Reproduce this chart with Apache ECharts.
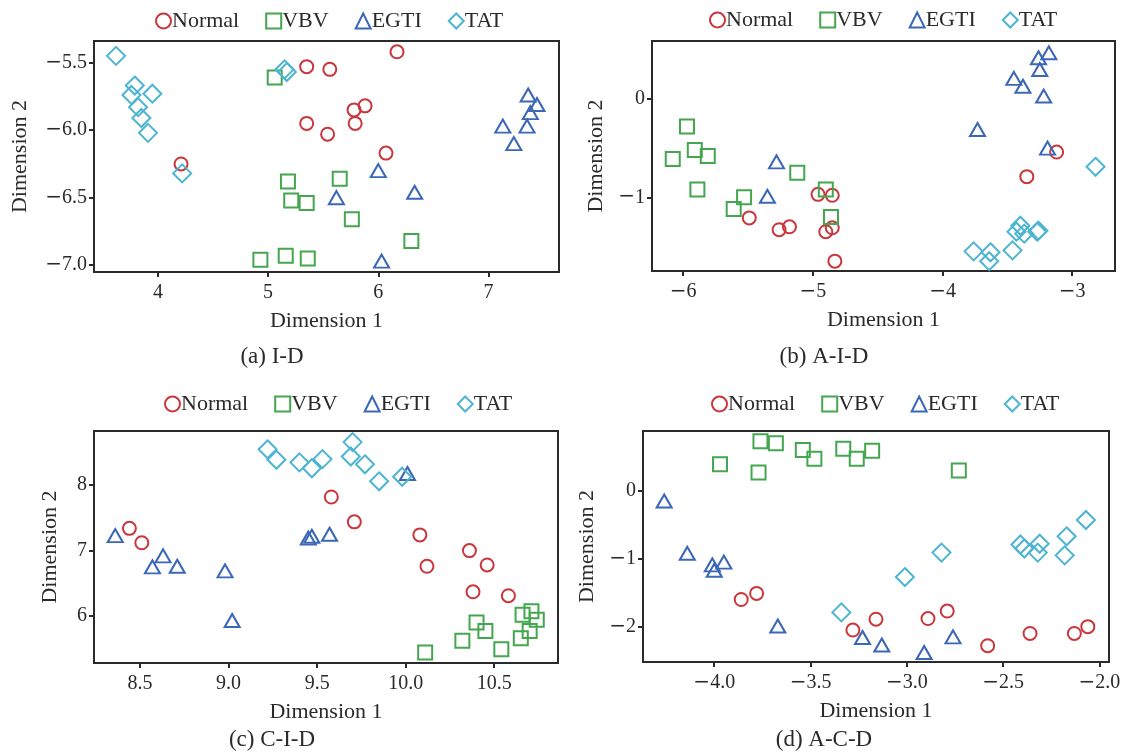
<!DOCTYPE html>
<html>
<head>
<meta charset="utf-8">
<script src="https://cdn.jsdelivr.net/npm/echarts@6/dist/echarts.min.js"></script>
<style>
  html, body { margin: 0; padding: 0; background: #fff; }
  #main { width: 1126px; height: 756px; }
</style>
</head>
<body>
<div id="main"></div>
<script>
// classes shown in every panel
const classNames = ['Normal', 'VBV', 'EGTI', 'TAT'];

// (a) I-D   points as [Dimension 1, Dimension 2]
const aNormal = [[6.17,-5.42],[5.35,-5.53],[5.56,-5.55],[5.78,-5.85],[5.88,-5.82],[5.79,-5.95],[5.35,-5.95],[5.54,-6.03],[6.07,-6.17],[4.21,-6.25]];
const aVBV = [[5.06,-5.61],[5.18,-6.38],[5.21,-6.52],[5.35,-6.54],[5.65,-6.36],[5.76,-6.66],[6.30,-6.82],[4.93,-6.96],[5.16,-6.93],[5.36,-6.95]];
const aEGTI = [[7.36,-5.74],[7.44,-5.81],[7.38,-5.87],[7.13,-5.97],[7.35,-5.97],[7.23,-6.10],[6.00,-6.30],[6.33,-6.46],[5.62,-6.50],[6.03,-6.97]];
const aTAT = [[3.62,-5.45],[3.79,-5.67],[3.76,-5.74],[3.95,-5.73],[3.82,-5.83],[3.85,-5.91],[3.91,-6.02],[4.22,-6.32],[5.15,-5.55],[5.17,-5.57]];
const aXTicks = ['4', '5', '6', '7'];
const aYTicks = ['-7.0', '-6.5', '-6.0', '-5.5'];

// (b) A-I-D
const bNormal = [[-3.12,-0.54],[-3.35,-0.79],[-4.96,-0.97],[-4.85,-0.98],[-5.49,-1.21],[-5.26,-1.33],[-5.18,-1.30],[-4.90,-1.35],[-4.85,-1.31],[-4.83,-1.65]];
const bVBV = [[-5.97,-0.28],[-5.91,-0.52],[-5.81,-0.58],[-6.08,-0.61],[-5.89,-0.92],[-5.12,-0.75],[-5.53,-1.00],[-5.61,-1.12],[-4.90,-0.92],[-4.86,-1.20]];
const bEGTI = [[-3.18,0.47],[-3.26,0.42],[-3.25,0.30],[-3.45,0.21],[-3.38,0.13],[-3.22,0.03],[-3.73,-0.31],[-3.19,-0.50],[-5.28,-0.64],[-5.35,-0.99]];
const bTAT = [[-2.82,-0.69],[-3.76,-1.55],[-3.63,-1.56],[-3.64,-1.65],[-3.46,-1.54],[-3.40,-1.29],[-3.43,-1.35],[-3.37,-1.37],[-3.27,-1.35],[-3.26,-1.34]];
const bXTicks = ['-6', '-5', '-4', '-3'];
const bYTicks = ['-1', '0'];

// (c) C-I-D
const cNormal = [[9.58,7.82],[9.71,7.44],[8.44,7.34],[8.51,7.12],[10.08,7.24],[10.12,6.76],[10.36,7.00],[10.46,6.78],[10.38,6.37],[10.58,6.31]];
const cVBV = [[10.11,5.44],[10.32,5.62],[10.40,5.90],[10.45,5.77],[10.54,5.49],[10.65,5.66],[10.70,5.77],[10.66,6.02],[10.71,6.07],[10.74,5.94]];
const cEGTI = [[8.36,7.23],[8.57,6.75],[8.63,6.92],[8.71,6.76],[8.98,6.69],[9.02,5.93],[9.45,7.19],[9.47,7.22],[9.57,7.25],[10.01,8.18]];
const cTAT = [[9.22,8.55],[9.27,8.39],[9.40,8.35],[9.47,8.26],[9.53,8.40],[9.70,8.66],[9.69,8.44],[9.77,8.32],[9.85,8.06],[9.98,8.13]];
const cXTicks = ['8.5', '9.0', '9.5', '10.0', '10.5'];
const cYTicks = ['6', '7', '8'];

// (d) A-C-D
const dNormal = [[-3.86,-1.60],[-3.78,-1.51],[-3.28,-2.05],[-3.16,-1.89],[-2.89,-1.88],[-2.79,-1.77],[-2.58,-2.28],[-2.36,-2.10],[-2.13,-2.10],[-2.06,-2.00]];
const dVBV = [[-3.97,0.39],[-3.76,0.73],[-3.68,0.70],[-3.77,0.27],[-3.54,0.60],[-3.48,0.47],[-3.33,0.62],[-3.26,0.47],[-3.18,0.59],[-2.73,0.30]];
const dEGTI = [[-4.26,-0.15],[-4.14,-0.92],[-4.01,-1.09],[-4.00,-1.17],[-3.95,-1.05],[-3.67,-1.99],[-3.23,-2.16],[-3.13,-2.27],[-2.91,-2.38],[-2.76,-2.15]];
const dTAT = [[-3.34,-1.79],[-3.01,-1.27],[-2.82,-0.91],[-2.41,-0.79],[-2.39,-0.85],[-2.31,-0.78],[-2.32,-0.91],[-2.17,-0.67],[-2.18,-0.95],[-2.07,-0.43]];
const dXTicks = ['-4.0', '-3.5', '-3.0', '-2.5', '-2.0'];
const dYTicks = ['-2', '-1', '0'];

const colors = ['#c9373d', '#44a64f', '#3b67b6', '#4db5d2'];
const symbols = ['circle', 'rect', 'triangle', 'diamond'];
const symbolSizes = [13, 14, [15, 13], 18];
const font = '"Liberation Serif", "Times New Roman", serif';
const ink = '#2a2a2a';

// panel layout
const panels = [
  { grid: { left: 94, top: 41, width: 465, height: 231 }, x: [3.42, 7.64], y: [-7.05, -5.34],
    xt: aXTicks, yt: aYTicks, data: [aNormal, aVBV, aEGTI, aTAT], yGap: 63,
    legend: { left: 150, top: 5 }, cap: '(a) I-D', capX: 272, capY: 357 },
  { grid: { left: 652, top: 41, width: 463, height: 230 }, x: [-6.24, -2.67], y: [-1.75, 0.59],
    xt: bXTicks, yt: bYTicks, data: [bNormal, bVBV, bEGTI, bTAT], yGap: 45,
    legend: { left: 704, top: 4 }, cap: '(b) A-I-D', capX: 824, capY: 357 },
  { grid: { left: 94, top: 431, width: 464, height: 232 }, x: [8.24, 10.86], y: [5.28, 8.83],
    xt: cXTicks, yt: cYTicks, data: [cNormal, cVBV, cEGTI, cTAT], yGap: 33,
    legend: { left: 159, top: 388 }, cap: '(c) C-I-D', capX: 272, capY: 740 },
  { grid: { left: 643, top: 431, width: 466, height: 231 }, x: [-4.37, -1.95], y: [-2.52, 0.88],
    xt: dXTicks, yt: dYTicks, data: [dNormal, dVBV, dEGTI, dTAT], yGap: 45,
    legend: { left: 706, top: 388 }, cap: '(d) A-C-D', capX: 824, capY: 740 }
];

// tick label text, with a wider minus sign like the original figure
function fmt(labels) {
  return function (v) {
    for (const s of labels) {
      if (Math.abs(parseFloat(s) - v) < 1e-6) {
        return s.charAt(0) === '-' ? '{m|\u2212}' + s.slice(1) : s;
      }
    }
    return '';
  };
}
const minusRich = { m: { fontFamily: '"DejaVu Serif", serif', fontSize: 20, color: ink } };

const grids = [], xAxes = [], yAxes = [], series = [], legends = [], graphics = [];

panels.forEach(function (p, i) {
  grids.push(Object.assign({ show: true, borderColor: ink, borderWidth: 2, backgroundColor: 'transparent' }, p.grid));
  const axisCommon = {
    axisLine: { show: true, onZero: false, lineStyle: { color: ink, width: 2 } },
    axisTick: { show: true, length: 5, lineStyle: { color: ink, width: 2 } },
    splitLine: { show: false },
    nameTextStyle: { fontFamily: font, fontSize: 22, color: ink }
  };
  xAxes.push(Object.assign({}, axisCommon, {
    gridIndex: i, type: 'value', min: p.x[0], max: p.x[1],
    name: 'Dimension 1', nameLocation: 'middle', nameGap: 38,
    axisTick: Object.assign({}, axisCommon.axisTick, { customValues: p.xt.map(Number) }),
    axisLabel: { customValues: p.xt.map(Number), formatter: fmt(p.xt), rich: minusRich,
      fontFamily: font, fontSize: 20, color: ink, margin: 11 }
  }));
  yAxes.push(Object.assign({}, axisCommon, {
    gridIndex: i, type: 'value', min: p.y[0], max: p.y[1],
    name: 'Dimension 2', nameLocation: 'middle', nameGap: p.yGap,
    axisTick: Object.assign({}, axisCommon.axisTick, { customValues: p.yt.map(Number) }),
    axisLabel: { customValues: p.yt.map(Number), formatter: fmt(p.yt), rich: minusRich,
      fontFamily: font, fontSize: 20, color: ink, margin: 7 }
  }));
  classNames.forEach(function (name, k) {
    series.push({
      name: name, type: 'scatter', xAxisIndex: i, yAxisIndex: i,
      data: p.data[k], symbol: symbols[k], symbolSize: symbolSizes[k],
      itemStyle: { color: 'rgba(255,255,255,0)', borderColor: colors[k], borderWidth: 2, opacity: 1 },
      emphasis: { disabled: true }, animation: false
    });
  });
  legends.push({
    left: p.legend.left, top: p.legend.top, itemWidth: 15, itemHeight: 15, itemGap: 26,
    data: classNames.map(function (n, k) {
      return { name: n, icon: symbols[k] };
    }),
    itemStyle: { borderWidth: 2 },
    textStyle: { fontFamily: font, fontSize: 22, color: ink, padding: [0, 0, 0, -4] },
    selectedMode: false
  });
  graphics.push({
    type: 'text', x: p.capX, y: p.capY,
    style: { text: p.cap, fontFamily: font, fontSize: 23, fill: ink, textAlign: 'center', textVerticalAlign: 'middle' }
  });
});

const chart = echarts.init(document.getElementById('main'), null, { renderer: 'canvas' });
chart.setOption({
  backgroundColor: '#fff',
  animation: false,
  color: colors,
  grid: grids,
  xAxis: xAxes,
  yAxis: yAxes,
  legend: legends,
  series: series,
  graphic: graphics
});
</script>
</body>
</html>
